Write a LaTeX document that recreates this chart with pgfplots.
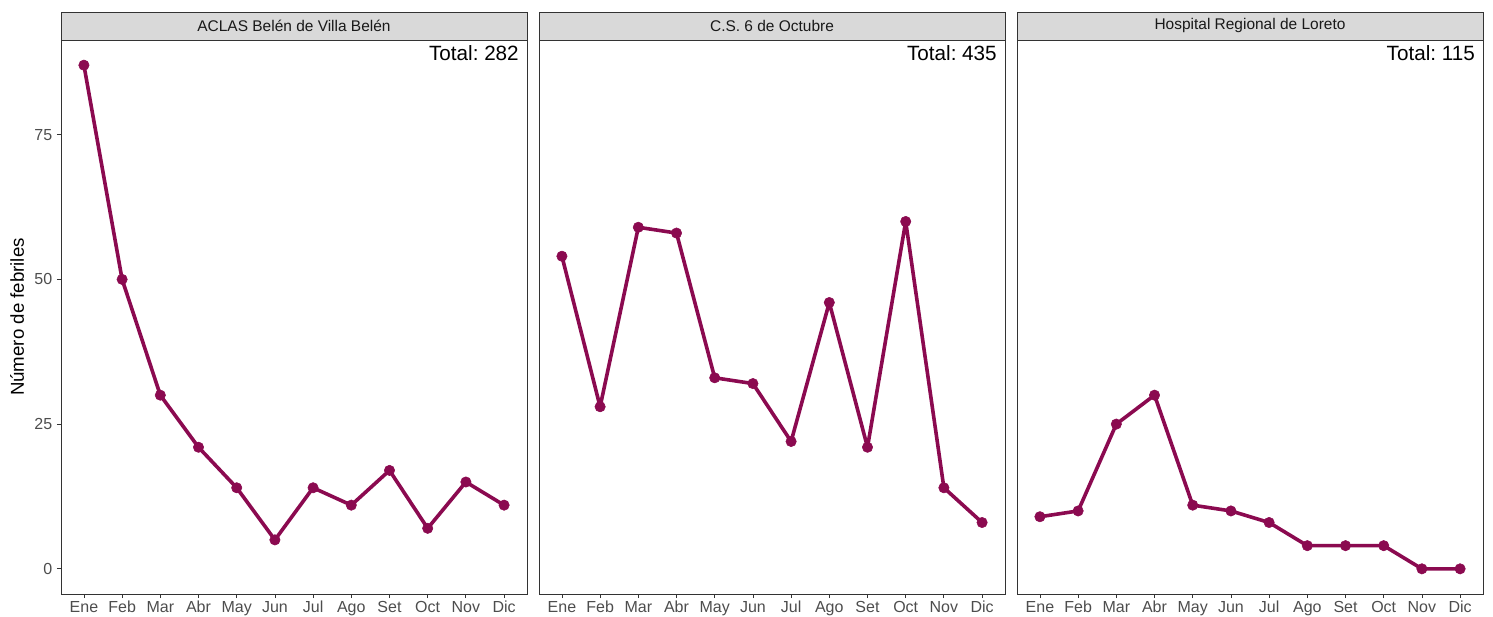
\documentclass[border=0pt]{standalone}
\usepackage{pgfplots}
\pgfplotsset{compat=1.18}
\usepackage{pgfplotstable}
\usepgfplotslibrary{groupplots}
\usepackage{fontspec}
\setmainfont{Liberation Sans}
\frenchspacing

\definecolor{colserie}{RGB}{139,10,80}
\definecolor{stripbg}{RGB}{217,217,217}
\definecolor{marco}{RGB}{51,51,51}
\definecolor{ticktext}{RGB}{77,77,77}

% m = mes (0 = Ene ... 11 = Dic)
\pgfplotstableread{
m  aclas  cs6  hrl
0  87     54   9
1  50     28   10
2  30     59   25
3  21     58   30
4  14     33   11
5  5      32   10
6  14     22   8
7  11     46   4
8  17     21   4
9  7      60   4
10 15     14   0
11 11     8    0
}\febriles

\pgfplotsset{
  faceta/.style={
    scale only axis, width=349.5pt, height=415.5pt,
    xmin=-0.6, xmax=11.6, ymin=-4.35, ymax=91.35,
    xtick={0,...,11},
    xticklabels={Ene,Feb,Mar,Abr,May,Jun,Jul,Ago,Set,Oct,Nov,Dic},
    ytick={0,25,50,75},
    tick pos=left, tick align=outside, major tick length=3pt,
    tick style={marco, line width=0.6pt},
    axis line style={marco, line width=0.6pt},
    tick label style={font=\fontsize{12}{14}\selectfont, text=ticktext},
    xticklabel style={text height=8.7pt, text depth=2.5pt, inner sep=2pt},
    /pgf/number format/assume math mode=true,
    clip=false,
  },
  linea/.style={colserie, line width=2.7pt, line join=round, mark=*, mark size=3.9pt,
    mark options={colserie, fill=colserie, line width=0.4pt}},
}

\newcommand{\tira}[2]{%
  \draw[marco, fill=stripbg, line width=0.6pt] (rel axis cs:0,1) rectangle ([yshift=21pt]rel axis cs:1,1);
  \node[font=\fontsize{11.6}{13}\selectfont, text=black!90] at ([yshift=10.5pt]rel axis cs:0.5,1) {#1};
  \node[anchor=north east, inner sep=0pt, font=\fontsize{15.5}{18}\selectfont] at ([xshift=-6pt,yshift=-3.75pt]rel axis cs:1,1) {Total: #2};
}

\begin{document}
\begin{tikzpicture}
\begin{groupplot}[group style={group size=3 by 1, horizontal sep=9pt}, faceta]
  \nextgroupplot
    \addplot[linea] table[x=m, y=aclas] {\febriles};
    \tira{ACLAS Belén de Villa Belén}{282}
    \node[rotate=90, font=\fontsize{14}{16}\selectfont] at ([xshift=-33pt]rel axis cs:0,0.5) {Número de febriles};
    \coordinate (bbsw) at ([xshift=-45.75pt, yshift=-16.5pt]rel axis cs:0,0);
  \nextgroupplot[ytick=\empty]
    \addplot[linea] table[x=m, y=cs6] {\febriles};
    \tira{C.S. 6 de Octubre}{435}
  \nextgroupplot[ytick=\empty]
    \addplot[linea] table[x=m, y=hrl] {\febriles};
    \tira{Hospital Regional de Loreto}{115}
    \coordinate (bbne) at ([xshift=7.5pt, yshift=30pt]rel axis cs:1,1);
\end{groupplot}
\pgfresetboundingbox
\path (bbsw) rectangle (bbne);
\end{tikzpicture}
\end{document}
